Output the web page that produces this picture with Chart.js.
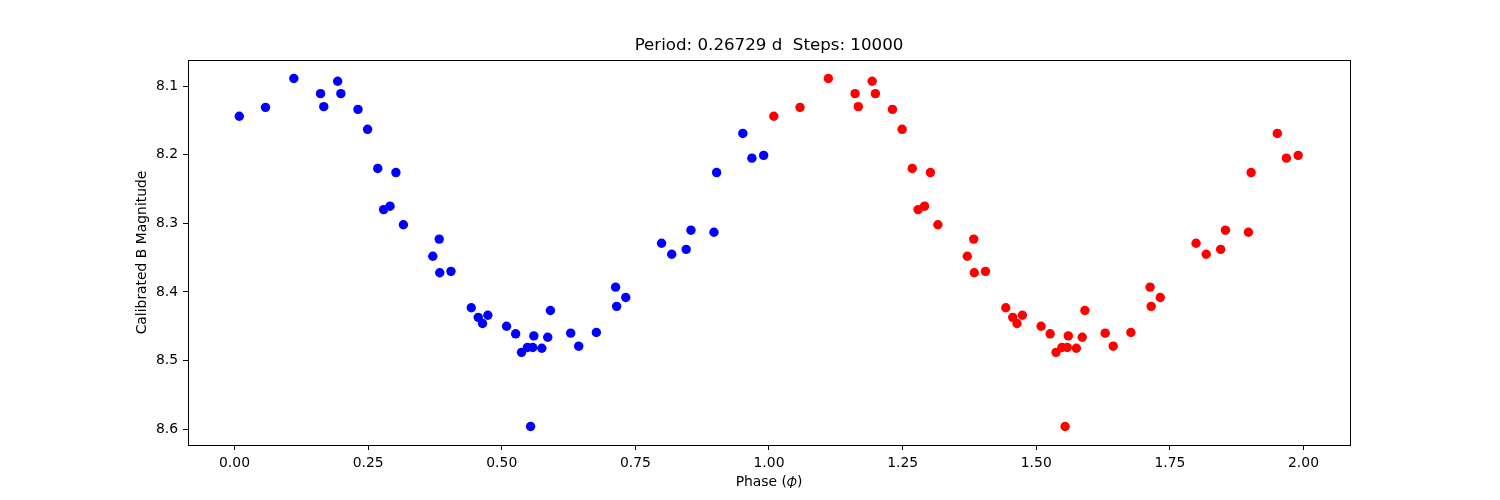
<!DOCTYPE html>
<html>
<head>
<meta charset="utf-8">
<script src="https://cdn.jsdelivr.net/npm/chart.js@4.4.1/dist/chart.umd.min.js"></script>
<style>
  html, body { margin: 0; padding: 0; background: #fff; }
  #wrap { width: 1500px; height: 500px; }
</style>
</head>
<body>
<div id="wrap"><canvas id="lc_chart" width="1500" height="500"></canvas></div>
<script>
// folded light curve, phase 0..1 (the red copy is the same points at phase + 1)
var phase = [0.009, 0.058, 0.111, 0.161, 0.167, 0.193, 0.199, 0.231, 0.249, 0.268,
             0.302, 0.279, 0.291, 0.316, 0.383, 0.371, 0.384, 0.405, 0.443, 0.456,
             0.464, 0.474, 0.509, 0.526, 0.560, 0.591, 0.586, 0.537, 0.548, 0.558,
             0.575, 0.554, 0.629, 0.644, 0.677, 0.713, 0.715, 0.732, 0.799, 0.818,
             0.845, 0.854, 0.897, 0.902, 0.951, 0.968, 0.990];
var magnitude = [8.144, 8.131, 8.089, 8.111, 8.130, 8.093, 8.111, 8.134, 8.163, 8.220,
                 8.226, 8.280, 8.275, 8.302, 8.323, 8.348, 8.372, 8.370, 8.423, 8.437,
                 8.446, 8.434, 8.450, 8.461, 8.464, 8.427, 8.466, 8.488, 8.481, 8.481,
                 8.482, 8.596, 8.460, 8.479, 8.459, 8.393, 8.421, 8.408, 8.329, 8.345,
                 8.338, 8.310, 8.313, 8.226, 8.169, 8.205, 8.201];
var xTicks = [0.00, 0.25, 0.50, 0.75, 1.00, 1.25, 1.50, 1.75, 2.00];
var yTicks = [8.1, 8.2, 8.3, 8.4, 8.5, 8.6];
var titleText = 'Period: 0.26729 d  Steps: 10000';

var firstCycle = [];
var secondCycle = [];
for (var i = 0; i < phase.length; i++) {
    firstCycle.push({ x: phase[i], y: magnitude[i] });
    secondCycle.push({ x: phase[i] + 1, y: magnitude[i] });
}

var font = "'DejaVu Sans', sans-serif";

// axes frame on all four sides, like matplotlib
var frame = {
    id: 'frame',
    afterDraw: function(chart) {
        var a = chart.chartArea;
        var ctx = chart.ctx;
        ctx.save();
        ctx.strokeStyle = '#000';
        ctx.lineWidth = 1;
        ctx.strokeRect(Math.round(a.left) + 0.5, Math.round(a.top) + 0.5,
                       Math.round(a.right - a.left), Math.round(a.bottom - a.top));
        ctx.restore();
    }
};

new Chart(document.getElementById('lc_chart'), {
    type: 'scatter',
    data: {
        datasets: [{
            data: firstCycle,
            backgroundColor: '#0000ff',
            borderWidth: 0,
            pointRadius: 4.7
        }, {
            data: secondCycle,
            backgroundColor: '#ff0000',
            borderWidth: 0,
            pointRadius: 4.7
        }]
    },
    options: {
        responsive: false,
        animation: false,
        layout: { padding: { left: 0, right: 150, top: 0, bottom: 0 } },
        plugins: {
            legend: { display: false },
            tooltip: { enabled: false },
            title: {
                display: true,
                text: titleText,
                fullSize: false,
                color: '#000',
                font: { family: font, size: 16.67, weight: 'normal', lineHeight: 1.2 },
                padding: { top: 36, bottom: 4 }
            }
        },
        scales: {
            x: {
                type: 'linear',
                min: -0.087,
                max: 2.087,
                afterBuildTicks: function(scale) {
                    scale.ticks = xTicks.map(function(v) { return { value: v }; });
                },
                afterFit: function(scale) { scale.height = 55; },
                ticks: {
                    color: '#000',
                    padding: 5,
                    maxRotation: 0,
                    font: { family: font, size: 13.9 },
                    callback: function(v) { return v.toFixed(2); }
                },
                grid: { drawOnChartArea: false, drawTicks: true, tickLength: 5, color: '#000' },
                border: { display: false },
                title: {
                    display: true,
                    text: 'Phase (\ud835\udf19)',
                    color: '#000',
                    font: { family: font, size: 13.9, lineHeight: 1.2 },
                    padding: { top: 0, bottom: 9.7 }
                }
            },
            y: {
                type: 'linear',
                reverse: true,
                min: 8.062,
                max: 8.623,
                afterBuildTicks: function(scale) {
                    scale.ticks = yTicks.map(function(v) { return { value: v }; });
                },
                afterFit: function(scale) { scale.width = 188; },
                ticks: {
                    color: '#000',
                    padding: 5,
                    font: { family: font, size: 13.9 },
                    callback: function(v) { return v.toFixed(1); }
                },
                grid: { drawOnChartArea: false, drawTicks: true, tickLength: 5, color: '#000' },
                border: { display: false },
                title: {
                    display: true,
                    text: 'Calibrated B Magnitude',
                    color: '#000',
                    font: { family: font, size: 13.9, lineHeight: 1.2 },
                    padding: { top: 133.7, bottom: 0 }
                }
            }
        }
    },
    plugins: [frame]
});
</script>
</body>
</html>
